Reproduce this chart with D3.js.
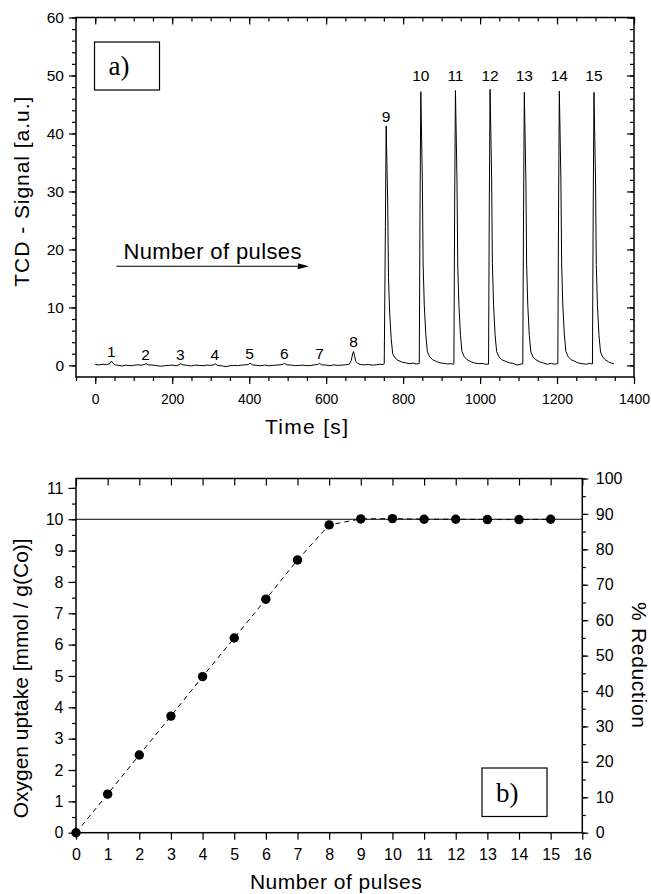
<!DOCTYPE html>
<html>
<head>
<meta charset="utf-8">
<script src="https://cdn.jsdelivr.net/npm/d3@7"></script>
<style>
body { margin: 0; background: #fff; }
svg text { font-family: "Liberation Sans", Arial, Helvetica, sans-serif; fill: #000; }
</style>
</head>
<body>
<div id="chart"></div>
<script>
// ---- data ----

// panel a) : pulse numbers, time of each peak [s] and peak maximum [a.u.]
var pulseNumbers = [1, 2, 3, 4, 5, 6, 7, 8, 9, 10, 11, 12, 13, 14, 15];
var pulseTimes   = [42, 131, 221, 311, 401, 491, 583, 671, 756, 846, 936, 1026, 1115, 1206, 1296];
var pulseHeights = [0.75, 0.3, 0.3, 0.25, 0.4, 0.35, 0.35, 2.4, 41.3, 47.2, 47.4, 47.6, 47.1, 47.3, 47.1];

// TCD trace [time s, signal a.u.]
var tcdTrace = [
  [0, 0.15], [10, 0.1], [20, 0.2], [30, 0.15], [38, 0.3], [42, 0.75], [46, 0.35], [52, 0.1], [60, 0.0], [70, -0.1],
  [80, 0.05], [90, -0.05], [100, 0.0], [110, 0.1], [120, 0.05], [128, 0.15], [132, 0.3], [138, 0.1], [150, 0.05], [160, -0.05],
  [170, -0.15], [180, -0.05], [190, 0.0], [200, 0.05], [210, -0.05], [218, 0.1], [222, 0.3], [228, 0.1], [240, 0.0], [250, -0.1],
  [260, 0.05], [270, 0.0], [280, -0.05], [290, 0.05], [300, 0.0], [308, 0.1], [312, 0.25], [318, 0.0], [330, -0.1], [340, -0.2],
  [350, -0.05], [360, 0.0], [370, -0.05], [380, 0.05], [390, 0.1], [398, 0.15], [402, 0.4], [408, 0.1], [420, 0.0], [430, -0.05],
  [440, 0.05], [450, -0.05], [460, 0.0], [470, 0.05], [480, 0.1], [488, 0.2], [492, 0.35], [498, 0.1], [510, 0.05], [520, -0.05],
  [530, 0.0], [540, 0.05], [550, -0.05], [560, 0.0], [570, 0.1], [578, 0.15], [583, 0.35], [588, 0.1], [600, 0.05], [610, -0.05],
  [620, 0.1], [630, 0.0], [640, 0.05], [650, 0.1], [660, 0.2], [665, 0.8], [669, 2.0], [671, 2.4], [674, 1.6], [677, 0.7],
  [682, 0.35], [690, 0.15], [700, 0.1], [710, 0.15], [720, 0.05], [730, 0.1], [740, 0.2], [748, 0.15],
  // pulse 9
  [751, 0.3], [754, 24], [756, 41.3], [760, 28], [762, 15.2], [765, 9.2], [769, 4.6], [773, 2.0], [779, 1.3], [786, 0.9],
  [796, 0.6], [806, 0.45], [816, 0.3], [826, 0.4], [834, 0.25], [841, 0.3],
  // pulse 10
  [842, 0.3], [844, 27], [846, 47.2], [850, 32], [852, 17.5], [855, 10.4], [859, 5.3], [863, 2.4], [869, 1.5], [876, 1.0],
  [886, 0.7], [896, 0.45], [906, 0.35], [916, 0.25], [924, 0.3], [931, 0.2],
  // pulse 11
  [932, 0.25], [934, 28], [936, 47.4], [940, 32], [942, 17.3], [945, 10.5], [949, 5.2], [953, 2.4], [959, 1.5], [966, 1.0],
  [976, 0.65], [986, 0.4], [996, 0.3], [1006, 0.35], [1014, 0.2], [1021, 0.25],
  // pulse 12
  [1022, 0.2], [1024, 28], [1026, 47.6], [1030, 32.5], [1032, 17.6], [1035, 10.5], [1039, 5.3], [1043, 2.4], [1049, 1.5], [1056, 1.0],
  [1066, 0.7], [1076, 0.45], [1086, 0.35], [1096, 0.05], [1104, 0.2], [1110, 0.25],
  // pulse 13
  [1111, 0.25], [1113, 27], [1115, 47.1], [1119, 32], [1121, 17.4], [1124, 10.3], [1128, 5.2], [1132, 2.3], [1138, 1.4], [1145, 1.0],
  [1155, 0.6], [1165, 0.4], [1175, 0.2], [1185, 0.35], [1194, 0.2], [1201, 0.3],
  // pulse 14
  [1202, 0.3], [1204, 27], [1206, 47.3], [1210, 32], [1212, 17.5], [1215, 10.4], [1219, 5.3], [1223, 2.4], [1229, 1.5], [1236, 1.0],
  [1246, 0.7], [1256, 0.4], [1266, 0.3], [1276, 0.2], [1284, 0.35], [1291, 0.25],
  // pulse 15
  [1292, 0.25], [1294, 27], [1296, 47.1], [1300, 32], [1302, 17.4], [1305, 10.3], [1309, 5.2], [1313, 2.3], [1319, 1.4], [1326, 0.95],
  [1334, 0.6], [1341, 0.4], [1348, 0.3]
];

// arrow annotation "Number of pulses" (time s, signal a.u.)
var arrowFrom = [55, 17.1];
var arrowTo   = [555, 17.1];

// panel b) : oxygen uptake per pulse
var pulseCount = [0, 1, 2, 3, 4, 5, 6, 7, 8, 9, 10, 11, 12, 13, 14, 15];
var uptake     = [0, 1.23, 2.48, 3.72, 4.98, 6.21, 7.45, 8.70, 9.82, 10.01, 10.02, 10.0, 10.0, 9.99, 9.99, 10.0];
var saturation = 10;
var uptakeAt100 = 11.3;   // mmol/g(Co) that corresponds to 100 % reduction

// ---- drawing ----
var w = 651, h = 894;
var svg = d3.select("#chart").append("svg")
    .attr("width", w)
    .attr("height", h);

// helper: draws an axis without its domain line
function drawAxis(axis, tr) {
    var g = svg.append("g").attr("transform", tr).call(axis);
    g.select(".domain").remove();
    g.selectAll("line").attr("stroke", "#000").attr("stroke-width", 1.2);
    g.selectAll("text").attr("fill", "#000").style("font-family", null);
    return g;
}

// ===== panel a) =====
var xA = d3.scaleLinear().domain([-50, 1400]).range([76, 634]);
var yA = d3.scaleLinear().domain([-2, 60]).range([377, 17.5]);

var xMajA = [0, 200, 400, 600, 800, 1000, 1200, 1400];
var xMinA = d3.range(-50, 1401, 50);
var yMajA = [0, 10, 20, 30, 40, 50, 60];
var yMinA = d3.range(0, 61, 2);

// bottom (outward) and top (inward)
drawAxis(d3.axisBottom(xA).tickValues(xMinA).tickSize(4).tickFormat(""), "translate(0,377)");
drawAxis(d3.axisBottom(xA).tickValues(xMajA).tickSize(7).tickPadding(10).tickFormat(d3.format("d")), "translate(0,377)")
    .selectAll("text").style("font-size", "14px");
drawAxis(d3.axisBottom(xA).tickValues(xMinA).tickSize(4).tickFormat(""), "translate(0,17.5)");
drawAxis(d3.axisBottom(xA).tickValues(xMajA).tickSize(7).tickFormat(""), "translate(0,17.5)");
// left (outward) and right (inward)
drawAxis(d3.axisLeft(yA).tickValues(yMinA).tickSize(4).tickFormat(""), "translate(76,0)");
drawAxis(d3.axisLeft(yA).tickValues(yMajA).tickSize(7).tickPadding(5).tickFormat(d3.format("d")), "translate(76,0)")
    .selectAll("text").style("font-size", "15.5px");
drawAxis(d3.axisLeft(yA).tickValues(yMinA).tickSize(4).tickFormat(""), "translate(634,0)");
drawAxis(d3.axisLeft(yA).tickValues(yMajA).tickSize(7).tickFormat(""), "translate(634,0)");

svg.append("rect")
    .attr("x", xA.range()[0]).attr("y", yA.range()[1])
    .attr("width", xA.range()[1] - xA.range()[0])
    .attr("height", yA.range()[0] - yA.range()[1])
    .attr("fill", "none").attr("stroke", "#000").attr("stroke-width", 1.5);

var lineA = d3.line()
    .x(function (d) { return xA(d[0]); })
    .y(function (d) { return yA(d[1]); });

svg.append("path")
    .datum(tcdTrace)
    .attr("d", lineA)
    .attr("fill", "none")
    .attr("stroke", "#000")
    .attr("stroke-width", 1)
    .attr("stroke-linejoin", "round");

// pulse numbers above the peaks
var topH = d3.max(pulseHeights);
svg.append("g").selectAll("text")
    .data(pulseNumbers)
    .enter()
    .append("text")
    .attr("x", function (d, i) { return xA(pulseTimes[i]); })
    .attr("y", function (d, i) {
        var ph = pulseHeights[i];
        return ph > 45 ? yA(topH) - 8 : yA(ph) - 4;
    })
    .attr("text-anchor", "middle")
    .style("font-size", "15.5px")
    .text(function (d) { return d; });

// arrow + text
var ay = yA(arrowFrom[1]);
svg.append("line")
    .attr("x1", xA(arrowFrom[0])).attr("y1", ay)
    .attr("x2", xA(arrowTo[0]) - 8).attr("y2", ay)
    .attr("stroke", "#000").attr("stroke-width", 1);
svg.append("path")
    .attr("d", "M" + xA(arrowTo[0]) + "," + ay + " l-11,-3 l0,6 z")
    .attr("fill", "#000");
svg.append("text")
    .attr("x", xA(arrowFrom[0]) + 7)
    .attr("y", ay - 7)
    .attr("textLength", 178)
    .attr("lengthAdjust", "spacing")
    .style("font-size", "22px")
    .text("Number of pulses");

// a) label box
svg.append("rect")
    .attr("x", 94.5).attr("y", 42).attr("width", 65).attr("height", 48)
    .attr("fill", "#fff").attr("stroke", "#000").attr("stroke-width", 1.2);
svg.append("text")
    .attr("x", 108.5).attr("y", 75)
    .style("font-family", "'Liberation Serif', 'Times New Roman', serif")
    .style("font-size", "27px")
    .text("a)");

// axis titles
svg.append("text")
    .attr("transform", "translate(28.5,191.7) rotate(-90)")
    .attr("text-anchor", "middle")
    .attr("textLength", 190)
    .attr("lengthAdjust", "spacing")
    .style("font-size", "21px")
    .text("TCD - Signal [a.u.]");

svg.append("text")
    .attr("x", 306.5).attr("y", 433.5)
    .attr("text-anchor", "middle")
    .attr("textLength", 83)
    .attr("lengthAdjust", "spacing")
    .style("font-size", "21px")
    .text("Time [s]");

// ===== panel b) =====
var xB = d3.scaleLinear().domain([0, 16]).range([76, 582.3]);
var yB = d3.scaleLinear().domain([0, uptakeAt100]).range([832.7, 478.5]);
var yR = d3.scaleLinear().domain([0, 100]).range([832.7, 478.5]);

var xTicksB = d3.range(0, 17, 1);
var yMajB = d3.range(0, 12, 1);
var yMinB = d3.range(0, 11.3, 0.5);
var rMajB = d3.range(0, 101, 10);
var rMinB = d3.range(0, 101, 5);

drawAxis(d3.axisBottom(xB).tickValues(xTicksB).tickSize(7).tickPadding(8.5).tickFormat(d3.format("d")), "translate(0,832.7)")
    .selectAll("text").style("font-size", "16px");
drawAxis(d3.axisBottom(xB).tickValues(xTicksB).tickSize(7).tickFormat(""), "translate(0,478.5)");
drawAxis(d3.axisLeft(yB).tickValues(yMinB).tickSize(4).tickFormat(""), "translate(76,0)");
drawAxis(d3.axisLeft(yB).tickValues(yMajB).tickSize(7.5).tickPadding(5).tickFormat(d3.format("d")), "translate(76,0)")
    .selectAll("text").style("font-size", "16px");
drawAxis(d3.axisRight(yR).tickValues(rMinB).tickSize(3.5).tickFormat(""), "translate(582.3,0)");
drawAxis(d3.axisRight(yR).tickValues(rMajB).tickSize(6).tickPadding(7.5).tickFormat(d3.format("d")), "translate(582.3,0)")
    .selectAll("text").style("font-size", "16px");

svg.append("rect")
    .attr("x", xB.range()[0]).attr("y", yB.range()[1])
    .attr("width", xB.range()[1] - xB.range()[0])
    .attr("height", yB.range()[0] - yB.range()[1])
    .attr("fill", "none").attr("stroke", "#000").attr("stroke-width", 1.5);

// saturation level
svg.append("line")
    .attr("x1", xB(0)).attr("x2", xB(16))
    .attr("y1", yB(saturation)).attr("y2", yB(saturation))
    .attr("stroke", "#000").attr("stroke-width", 1.2);

var lineB = d3.line()
    .x(function (d, i) { return xB(pulseCount[i]); })
    .y(function (d) { return yB(d); });

svg.append("path")
    .datum(uptake)
    .attr("d", lineB)
    .attr("fill", "none")
    .attr("stroke", "#000")
    .attr("stroke-width", 1)
    .attr("stroke-dasharray", "5,4");

svg.append("g").selectAll("circle")
    .data(uptake)
    .enter()
    .append("circle")
    .attr("cx", function (d, i) { return xB(pulseCount[i]); })
    .attr("cy", function (d) { return yB(d); })
    .attr("r", 4.7)
    .attr("fill", "#000");

// b) label box
svg.append("rect")
    .attr("x", 482).attr("y", 768).attr("width", 65).attr("height", 48.5)
    .attr("fill", "#fff").attr("stroke", "#000").attr("stroke-width", 1.2);
svg.append("text")
    .attr("x", 496).attr("y", 802)
    .style("font-family", "'Liberation Serif', 'Times New Roman', serif")
    .style("font-size", "27px")
    .text("b)");

svg.append("text")
    .attr("transform", "translate(27.5,678.3) rotate(-90)")
    .attr("text-anchor", "middle")
    .attr("textLength", 280)
    .attr("lengthAdjust", "spacing")
    .style("font-size", "21px")
    .text("Oxygen uptake [mmol / g(Co)]");

svg.append("text")
    .attr("transform", "translate(631.5,665) rotate(90)")
    .attr("text-anchor", "middle")
    .attr("textLength", 126)
    .attr("lengthAdjust", "spacing")
    .style("font-size", "21px")
    .text("% Reduction");

svg.append("text")
    .attr("x", 335.8).attr("y", 889)
    .attr("text-anchor", "middle")
    .attr("textLength", 171.7)
    .attr("lengthAdjust", "spacing")
    .style("font-size", "21px")
    .text("Number of pulses");
</script>
</body>
</html>
